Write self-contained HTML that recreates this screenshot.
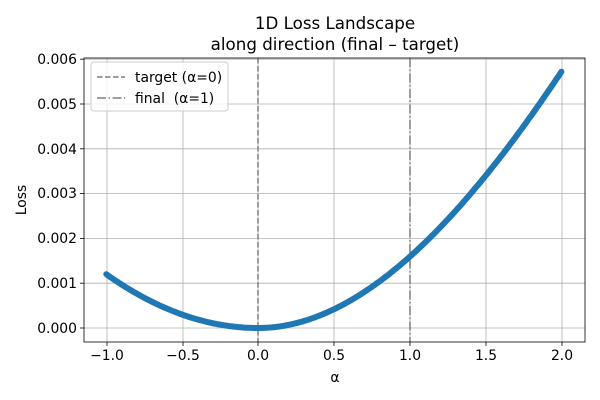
<!DOCTYPE html>
<html><head><meta charset="utf-8"><style>
body{margin:0;background:#fff}
svg{display:block;font-family:"DejaVu Sans","Liberation Sans",sans-serif}
</style></head><body>
<svg id="s" width="600" height="400" xmlns="http://www.w3.org/2000/svg">
<rect width="600" height="400" fill="#fff"/>
<g stroke="#b0b0b0" stroke-width="0.8">
<line x1="107" y1="58" x2="107" y2="342"/><line x1="183" y1="58" x2="183" y2="342"/>
<line x1="258" y1="58" x2="258" y2="342"/><line x1="334" y1="58" x2="334" y2="342"/>
<line x1="410" y1="58" x2="410" y2="342"/><line x1="486" y1="58" x2="486" y2="342"/>
<line x1="562" y1="58" x2="562" y2="342"/>
<line x1="84" y1="328" x2="585" y2="328"/><line x1="84" y1="283.2" x2="585" y2="283.2"/>
<line x1="84" y1="238.4" x2="585" y2="238.4"/><line x1="84" y1="193.6" x2="585" y2="193.6"/>
<line x1="84" y1="148.8" x2="585" y2="148.8"/><line x1="84" y1="104" x2="585" y2="104"/>
<line x1="84" y1="59.2" x2="585" y2="59.2"/>
</g>
<line x1="258" y1="58" x2="258" y2="342" stroke="#7f7f7f" stroke-width="1.5" stroke-dasharray="5.5,2.5"/>
<line x1="410" y1="58" x2="410" y2="342" stroke="#7f7f7f" stroke-width="1.5" stroke-dasharray="9,2.5,1.5,2.5"/>
<path id="c" fill="none" stroke="#1f77b4" stroke-width="6" stroke-linecap="round" stroke-linejoin="round"/>
<rect x="84" y="58" width="501" height="284" fill="none" stroke="#000" stroke-width="0.8"/>
<g stroke="#000" stroke-width="0.8">
<line x1="107" y1="342" x2="107" y2="346"/><line x1="183" y1="342" x2="183" y2="346"/>
<line x1="258" y1="342" x2="258" y2="346"/><line x1="334" y1="342" x2="334" y2="346"/>
<line x1="410" y1="342" x2="410" y2="346"/><line x1="486" y1="342" x2="486" y2="346"/>
<line x1="562" y1="342" x2="562" y2="346"/>
<line x1="80" y1="328" x2="84" y2="328"/><line x1="80" y1="283.2" x2="84" y2="283.2"/>
<line x1="80" y1="238.4" x2="84" y2="238.4"/><line x1="80" y1="193.6" x2="84" y2="193.6"/>
<line x1="80" y1="148.8" x2="84" y2="148.8"/><line x1="80" y1="104" x2="84" y2="104"/>
<line x1="80" y1="59.2" x2="84" y2="59.2"/>
</g>
<g font-size="13.9" fill="#000" text-anchor="middle">
<text x="107" y="360">−1.0</text><text x="183" y="360">−0.5</text><text x="258" y="360">0.0</text>
<text x="334" y="360">0.5</text><text x="410" y="360">1.0</text><text x="486" y="360">1.5</text>
<text x="562" y="360">2.0</text>
<text x="335" y="382">α</text>
</g>
<g font-size="13.9" fill="#000" text-anchor="end">
<text x="77" y="333">0.000</text><text x="77" y="288">0.001</text><text x="77" y="243">0.002</text>
<text x="77" y="198">0.003</text><text x="77" y="154">0.004</text><text x="77" y="109">0.005</text>
<text x="77" y="64">0.006</text>
</g>
<text transform="translate(26,200) rotate(-90)" font-size="13.9" text-anchor="middle">Loss</text>
<text x="335" y="29" font-size="16.7" text-anchor="middle">1D Loss Landscape</text>
<text x="335" y="50" font-size="16.7" text-anchor="middle">along direction (final – target)</text>
<rect x="91" y="62" width="137" height="49" rx="3" fill="#fff" fill-opacity="0.8" stroke="#ccc"/>
<line x1="97" y1="77" x2="125" y2="77" stroke="#7f7f7f" stroke-width="1.5" stroke-dasharray="5.5,2.5"/>
<line x1="97" y1="98" x2="125" y2="98" stroke="#7f7f7f" stroke-width="1.5" stroke-dasharray="9,2.5,1.5,2.5"/>
<text x="135" y="82" font-size="13.9">target (α=0)</text>
<text x="135" y="103" font-size="13.9" xml:space="preserve">final  (α=1)</text>
</svg>
<script>
var d="";for(var i=0;i<=300;i++){var a=-1+3*i/300;var f=a<0?0.0012*a*a:0.00175*a*a-0.00016*a*a*a;
var x=258+a*151.7,y=328-f*44800;d+=(i?"L":"M")+x.toFixed(1)+","+y.toFixed(1);}
document.getElementById("c").setAttribute("d",d);
</script>
</body></html>
